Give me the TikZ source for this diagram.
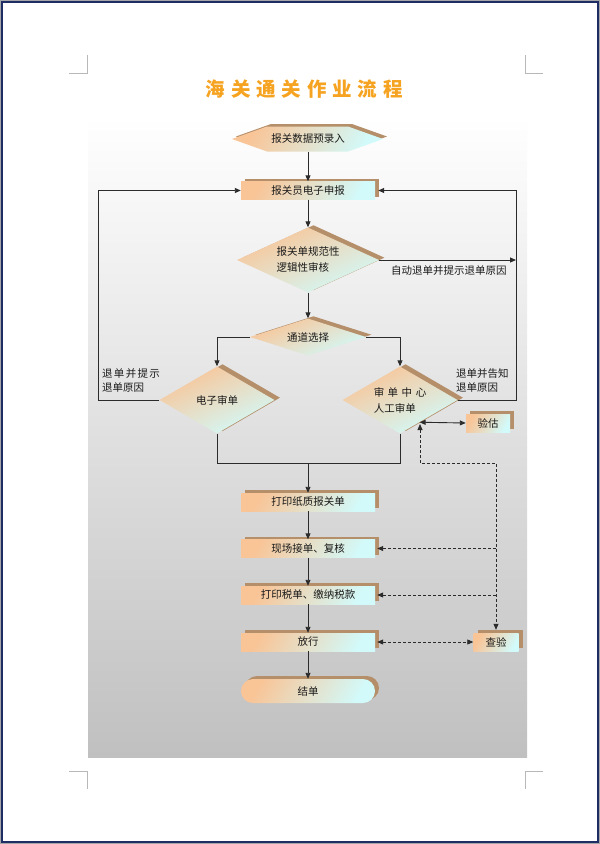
\documentclass[tikz,border=0pt]{standalone}
\usepackage{fontspec}
\newfontfamily\cjk{Noto Sans CJK SC}
\newfontfamily\titlefont[LetterSpace=30]{Noto Sans CJK SC}
\usetikzlibrary{shapes.geometric,shapes.misc,shadows,arrows.meta,calc}
\definecolor{peach}{HTML}{F9C496}
\definecolor{aqua}{HTML}{D2FAFA}
\definecolor{extb}{HTML}{B58F6A}
\definecolor{lnc}{HTML}{2B2B2B}
\definecolor{txc}{HTML}{1A1A1A}
\definecolor{bgg}{HTML}{C0C0C0}
\definecolor{navyf}{HTML}{1E2D66}
\definecolor{markc}{HTML}{B8B8B8}
\definecolor{ttlc}{HTML}{F5A320}
\tikzset{
 grad/.style={top color=peach, bottom color=aqua, shading angle=60},
 dgrad/.style={top color=peach, bottom color=aqua, shading angle=25},
 lbl/.style={font=\cjk\fontsize{10.5}{14}\selectfont, text=txc},
 boxx/.style={grad, lbl, rectangle, inner sep=0pt, minimum width=134pt, minimum height=18pt,
   general shadow={fill=extb, shadow xshift=4pt, shadow yshift=3pt}},
 diam/.style={dgrad, font=\cjk\fontsize{10.5}{16}\selectfont, text=txc, diamond, inner sep=0pt, align=left,
   general shadow={fill=extb, shadow xshift=5.5pt, shadow yshift=2.3pt}},
 ln/.style={draw=lnc, line width=0.9pt},
 dsh/.style={draw=lnc, line width=0.8pt, dash pattern=on 3pt off 2pt},
 ttl/.style={font=\titlefont\bfseries\fontsize{19.5}{20}\selectfont, anchor=west, inner sep=0pt},
}
\begin{document}
\begin{tikzpicture}[x=1pt,y=-1pt,>={Triangle[length=6pt,width=5pt]}]
\useasboundingbox (0,0) rectangle (600,844);
\fill[white] (0,0) rectangle (600,844);
\shade[top color=white, bottom color=bgg] (88,115) rectangle (527,757);
\draw[gray!70, line width=1pt] (0.5,0.5) rectangle (599.5,843.5);
\draw[navyf, line width=2pt] (2,2) rectangle (598,842);
% corner marks
\draw[markc, line width=1pt] (69,73) -- (87,73) -- (87,55);
\draw[markc, line width=1pt] (525,55) -- (525,73) -- (543,73);
\draw[markc, line width=1pt] (69,771) -- (87,771) -- (87,789);
\draw[markc, line width=1pt] (543,771) -- (525,771) -- (525,789);
% title
\node[ttl, text=ttlc] (title) at (205.5,89.5) {海关通关作业流程};
% hexagon
\path[grad, general shadow={fill=extb, shadow xshift=4pt, shadow yshift=2.5pt}]
  (232,139) -- (267,126.5) -- (348,126.5) -- (383,139) -- (348,151.5) -- (267,151.5) -- cycle;
\node[lbl, minimum width=151pt, minimum height=25pt, inner sep=0pt] (n1) at (308,139) {报关数据预录入};
% nodes
\node[boxx] (n2) at (308,190.5) {报关员电子申报};
\node[diam, minimum width=142pt, minimum height=65pt, aspect=2.2] (n3) at (308,260) {报关单规范性\\逻辑性审核};
\node[diam, minimum width=116pt, minimum height=37pt, aspect=3.2] (n4) at (308,337) {通道选择};
\node[diam, minimum width=115pt, minimum height=67pt, aspect=1.7] (n5) at (217,400) {电子审单};
\node[diam, minimum width=115pt, minimum height=67pt, aspect=1.7] (n6) at (400,400) {审\hspace{3.5pt}单\hspace{3.5pt}中\hspace{3.5pt}心\\人工审单};
\node[boxx, minimum width=44pt] (yg) at (488,423) {验估};
\node[boxx] (p1) at (308,502) {打印纸质报关单};
\node[boxx] (p2) at (308,548.5) {现场接单、复核};
\node[boxx] (p3) at (308,595) {打印税单、缴纳税款};
\node[boxx] (p4) at (308,642) {放行};
\node[boxx, rounded rectangle, minimum height=24pt] (p5) at (308,691) {结单};
\node[boxx, minimum width=45pt] (cy) at (496,642) {查验};
% labels
\node[lbl, anchor=west, inner sep=0pt] (la) at (391,271) {自动退单并提示退单原因};
\node[lbl, anchor=west, align=left, inner sep=0pt] (lb) at (102,380) {退\hspace{1.3pt}单\hspace{1.3pt}并\hspace{1.3pt}提\hspace{1.3pt}示\\退单原因};
\node[lbl, anchor=west, align=left, inner sep=0pt] (lc) at (456,380) {退单并告知\\退单原因};
% coordinates
\coordinate (rt) at (516,260);
\coordinate (rb) at (516,400);
\coordinate (lt) at (98,400);
\coordinate (m) at (308,463);
\coordinate (vk) at ($(n6.east)!0.66!(n6.south)$);
\coordinate (dk) at (420,424);
\coordinate (dc) at (420,463);
% main connectors
\draw[ln,->] (n1.south) -- (n2.north);
\draw[ln,->] (n2.south) -- (n3.north);
\draw[ln,->] (n3.south) -- (n4.north);
\draw[ln,->] (n4.west) -| (n5.north);
\draw[ln,->] (n4.east) -| (n6.north);
\draw[ln,->] (n3.east) -- (rt);
\draw[ln,->] (n6.east) -- (rb) |- ([xshift=3pt]n2.east);
\draw[ln,->] (n5.west) -- (lt) |- (n2.west);
\draw[ln] (n5.south) |- (m);
\draw[ln] (n6.south) |- (m);
\draw[ln,->] (m) -- (p1.north);
\draw[ln,->] (p1.south) -- (p2.north);
\draw[ln,->] (p2.south) -- (p3.north);
\draw[ln,->] (p3.south) -- (p4.north);
\draw[ln,->] (p4.south) -- (p5.north);
\draw[ln,<->] (vk) -- (yg.west);
% dashed
\draw[dsh,<->] (dk) -- (dc) -| ([yshift=3pt]cy.north);
\draw[dsh,->] (cy.north |- p2.east) -- ([xshift=2pt]p2.east);
\draw[dsh,->] (cy.north |- p3.east) -- ([xshift=2pt]p3.east);
\draw[dsh,<->] ([xshift=2pt]p4.east) -- (cy.west);
\end{tikzpicture}
\end{document}
